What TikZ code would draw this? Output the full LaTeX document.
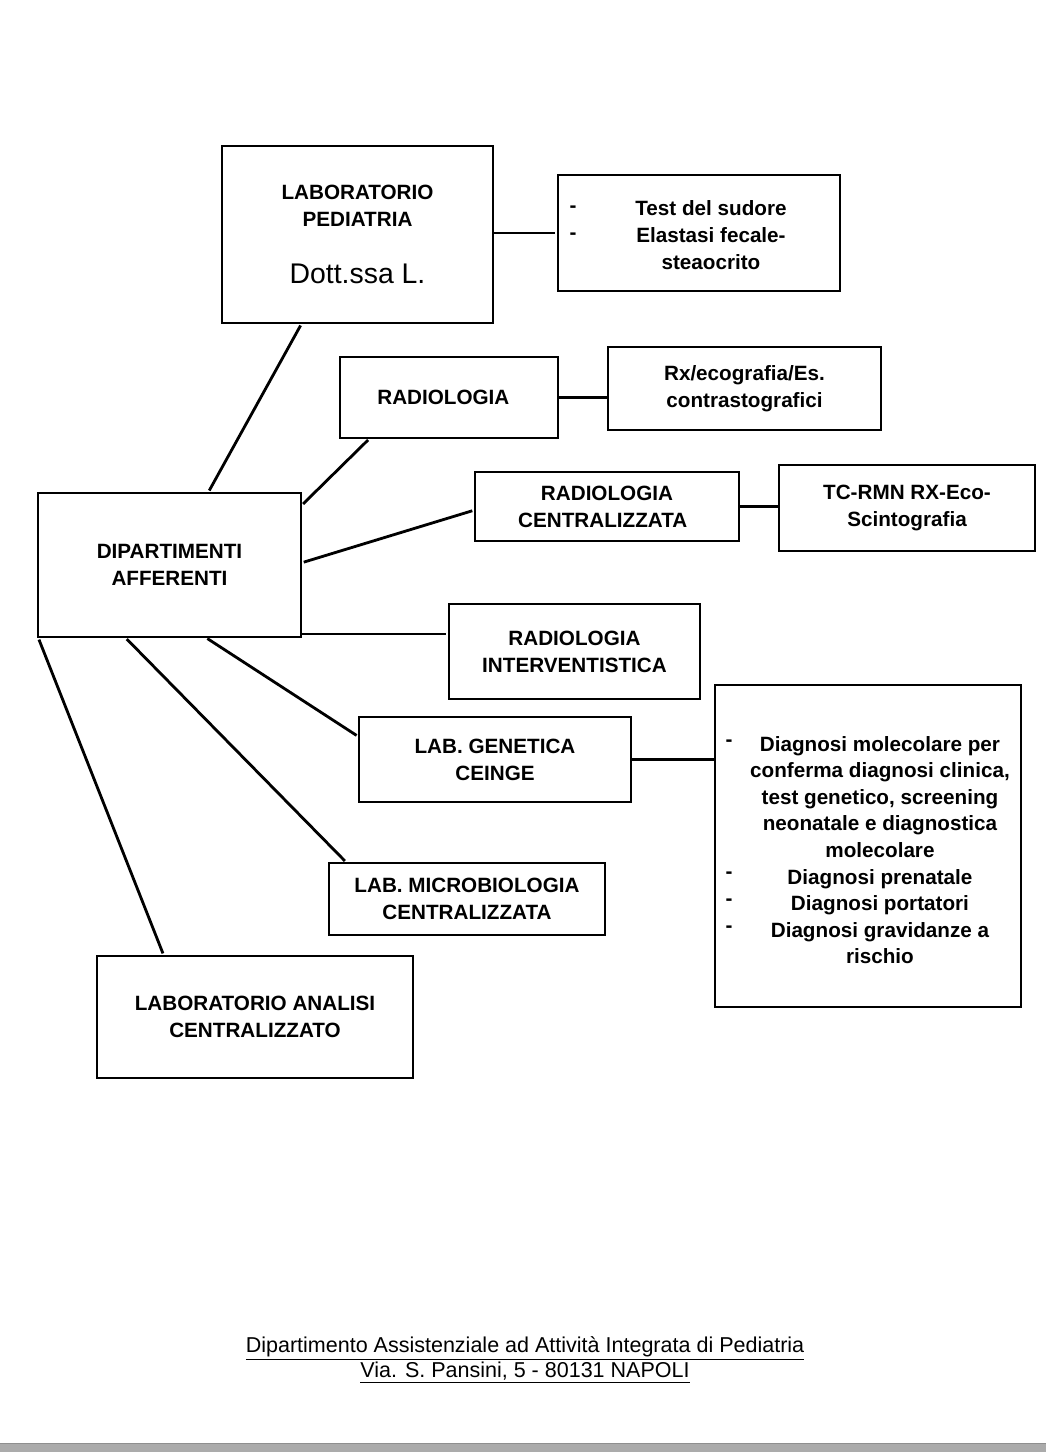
\documentclass[tikz,border=0pt]{standalone}
\usepackage{fontspec}
\setmainfont{Liberation Sans}
\usetikzlibrary{calc}

\begin{document}
\begin{tikzpicture}[x=0.025cm, y=-0.025cm,
  box/.style={draw, line width=2pt, align=center, inner sep=2pt, outer sep=0pt,
              font=\fontsize{14.7}{19.2}\selectfont\bfseries},
  hyph/.style={font=\fontsize{14.7}{19.2}\selectfont\bfseries, inner sep=0pt},
  link/.style={line width=2pt, shorten >=2pt, shorten <=2pt},
  foot/.style={font=\fontsize{15.3}{17.8}\selectfont, align=center}]
\useasboundingbox (0,0) rectangle (1046,1452);
\fill[white] (0,0) rectangle (1046,1452);
\fill[black!33] (0,1443) rectangle (1046,1452);
\draw[black!44, line width=0.6pt] (0,1443.5) -- (1046,1443.5);

% top laboratory and its tests
\node[box, minimum width=6.775cm, minimum height=4.425cm] (lab) at (357.5,234.5)
  {LABORATORIO\\PEDIATRIA\\[21pt]{\mdseries\fontsize{20.2}{24}\selectfont Dott.ssa L.}};
\node[box, minimum width=7.05cm, minimum height=2.9cm] (test) at (699,233)
  {\rule{0pt}{13pt}\hspace*{17pt}Test del sudore\\\hspace*{17pt}Elastasi fecale-\\\hspace*{17pt}steaocrito};
\node[hyph] (t1) at (573,209) {-};
\node[hyph] (t2) at (573,236) {-};

% radiology
\node[box, minimum width=5.45cm, minimum height=2.025cm] (radio) at (449,397.5) {RADIOLOGIA\hspace*{8pt}};
\node[box, minimum width=6.825cm, minimum height=2.075cm] (rx) at (744.5,388.5)
  {Rx/ecografia/Es.\\contrastografici};
\node[box, minimum width=6.6cm, minimum height=1.725cm] (radc) at (607,506.5)
  {RADIOLOGIA\\CENTRALIZZATA\hspace*{6pt}};
\node[box, minimum width=6.4cm, minimum height=2.15cm] (tc) at (907,508)
  {TC-RMN RX-Eco-\\Scintografia};
\node[box, minimum width=6.275cm, minimum height=2.375cm] (radi) at (574.5,651.5)
  {RADIOLOGIA\\INTERVENTISTICA};

% central node
\node[box, minimum width=6.575cm, minimum height=3.6cm] (dip) at (169.5,565)
  {DIPARTIMENTI\\AFFERENTI};

% laboratories
\node[box, minimum width=6.8cm, minimum height=2.125cm] (gen) at (495,759.5)
  {LAB. GENETICA\\CEINGE};
\node[box, minimum width=7.65cm, minimum height=8.05cm,
      font=\fontsize{14.7}{18.9}\selectfont\bfseries] (diag) at (868,846)
  {\rule{0pt}{16.4pt}\hspace*{17pt}Diagnosi molecolare per\\\hspace*{17pt}conferma diagnosi clinica,\\
   \hspace*{17pt}test genetico, screening\\\hspace*{17pt}neonatale e diagnostica\\
   \hspace*{17pt}molecolare\\\hspace*{17pt}Diagnosi prenatale\\
   \hspace*{17pt}Diagnosi portatori\\\hspace*{17pt}Diagnosi gravidanze a\\
   \hspace*{17pt}rischio};
\node[hyph] (g1) at (729,743) {-};
\node[hyph] (g2) at (729,875) {-};
\node[hyph] (g3) at (729,902) {-};
\node[hyph] (g4) at (729,929) {-};
\node[box, minimum width=6.9cm, minimum height=1.8cm] (micro) at (467,899)
  {LAB. MICROBIOLOGIA\\CENTRALIZZATA};
\node[box, minimum width=7.9cm, minimum height=3.05cm] (ana) at (255,1017)
  {LABORATORIO ANALISI\\CENTRALIZZATO};

% connectors
\draw[link] ($(dip.north west)!0.646!(dip.north east)$) -- ($(lab.south west)!0.295!(lab.south east)$);
\draw[link] ($(dip.north east)!0.09!(dip.south east)$) -- ($(radio.south west)!0.138!(radio.south east)$);
\draw[link] ($(dip.north east)!0.486!(dip.south east)$) -- ($(radc.north west)!0.55!(radc.south west)$);
\coordinate (ri) at ($(radi.north west)!0.316!(radi.south west)$);
\draw[link, shorten <=0pt] (dip.east |- ri) -- (ri);
\draw[link] ($(dip.south west)!0.635!(dip.south east)$) -- ($(gen.north west)!0.235!(gen.south west)$);
\draw[link] ($(dip.south west)!0.33!(dip.south east)$) -- ($(micro.north west)!0.065!(micro.north east)$);
\draw[link] (dip.south west) -- ($(ana.north west)!0.212!(ana.north east)$);
\draw[link, shorten <=0pt] (lab.east |- test.west) -- (test.west);
\draw[link, shorten <=0pt, shorten >=0pt] (radio.east) -- (rx.west |- radio.east);
\draw[link, shorten <=0pt, shorten >=0pt] (radc.east) -- (tc.west |- radc.east);
\draw[link, shorten <=0pt, shorten >=0pt] (gen.east) -- (diag.west |- gen.east);

% footer
\node[foot] (addr) at (525,1360)
  {\underline{Dipartimento Assistenziale ad Attività Integrata di Pediatria}\\
   \underline{Via. S. Pansini, 5 - 80131 NAPOLI}};
\end{tikzpicture}
\end{document}
